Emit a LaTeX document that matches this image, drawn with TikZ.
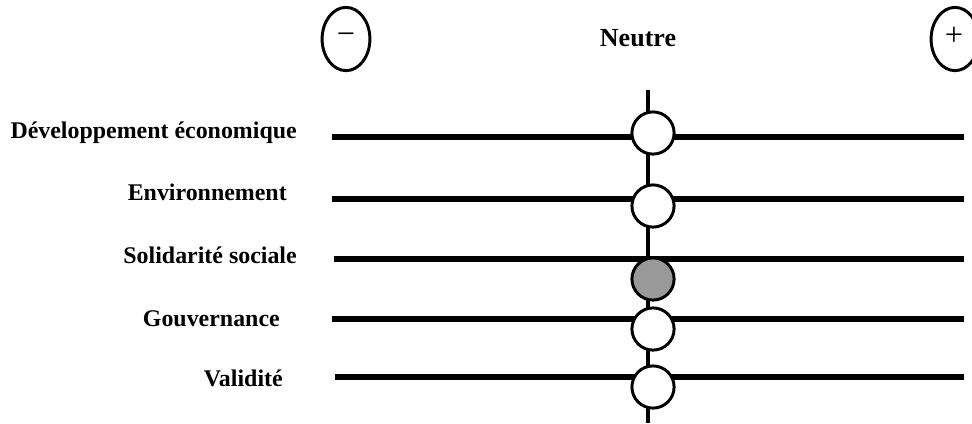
\documentclass[tikz,border=0pt]{standalone}
\usepackage{fontspec}
\setmainfont{Liberation Serif}
\usetikzlibrary{shapes.geometric, positioning}
\definecolor{curseurgris}{RGB}{153,153,153}

\tikzset{
  pole/.style={ellipse, draw, line width=2.1pt, minimum width=34pt, minimum height=45pt, inner sep=0pt},
  signe/.style={font=\fontsize{23}{26}\selectfont, inner sep=0pt},
  critere/.style={font=\bfseries\fontsize{17}{20}\selectfont, anchor=base east, inner sep=0pt},
  echelle/.style={line width=3.6pt},
  axe/.style={line width=2.8pt},
  curseur/.style={circle, draw, line width=2.1pt, fill=white, minimum size=30pt, inner sep=0pt}
}

\begin{document}
\begin{tikzpicture}[x=0.025cm, y=-0.025cm]
    \useasboundingbox (0,0) rectangle (972,423);

    % Poles of the scale
    \node[pole] (moins) at (346,39) {};
    \node[signe] (moinstxt) at (346,39) {−};
    \node[pole] (plus) at (955,39) {};
    \node[signe] (plustxt) at (954,36) {+};
    \node[font=\bfseries\fontsize{18.5}{22}\selectfont, anchor=base, inner sep=0pt] (neutre) at (638,46) {Neutre};

    % Neutral axis
    \coordinate (axehaut) at (648,90);
    \coordinate (axebas) at (648,423);
    \draw[axe] (axehaut) -- (axebas);

    % Criteria: label, scale line and cursor
    \foreach \nom/\txt/\lx/\base/\ly/\x/\cy/\couleur in {
        dev/{Développement économique}/297/138/137/332/133/white,
        env/{Environnement}/287/200/199/332/206/white,
        sol/{Solidarité sociale}/297/263/259/334/279/curseurgris,
        gouv/{Gouvernance}/280/326/319/332/329/white,
        val/{Validité}/283/386/377/335/387/white} {
      \node[critere] (\nom) at (\lx,\base) {\txt};
      \coordinate (\nom g) at (\x,\ly);
      \coordinate (\nom d) at (964,\ly);
      \draw[echelle] (\nom g) -- (\nom d);
      \node[curseur, fill=\couleur] (\nom c) at (653,\cy) {};
    }
\end{tikzpicture}
\end{document}
